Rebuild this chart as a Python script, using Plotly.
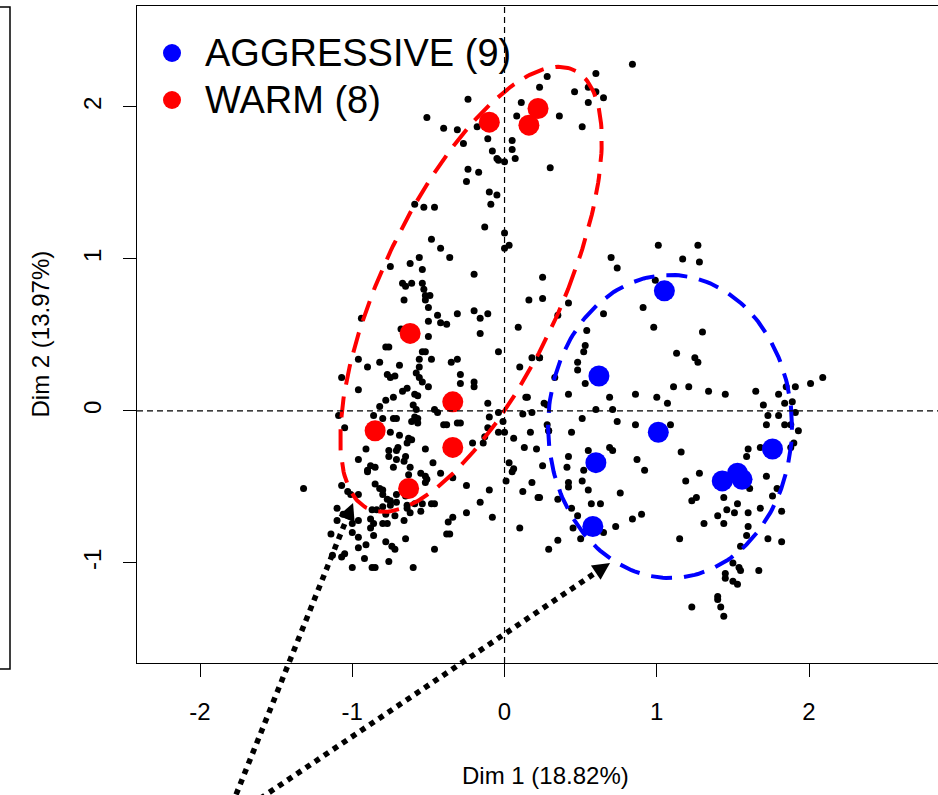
import numpy as np
import plotly.graph_objects as go

# ---------------- data ----------------
ind_x = [
    0.84, 0.60, 0.28, 0.23, 0.46, 0.55, 0.60, 0.65, 0.55, -0.24,
    -0.51, 0.11, 0.08, 0.36, 0.51, -0.40, -0.31, -0.18, -0.11, -0.27,
    0.05, 0.05, -0.08, -0.05, -0.04, 0.00, 0.07, 0.30, -0.24, -0.17,
    -0.25, -0.10, -0.05, -0.09, -0.59, -0.53, -0.46, -0.13, 0.00, -0.48,
    -0.42, 0.00, 0.03, -0.56, -0.36, 0.70, 1.01, 1.27, 1.17, 1.28,
    0.74, 0.25, 0.99, 0.25, 0.42, 0.35, 0.65, 0.91, 0.98, 0.54,
    1.30, 0.53, 0.52, 1.13, 1.25, 1.27, 0.23, 0.48, 0.48, 0.33,
    0.53, 1.11, 1.21, 1.34, 1.45, 1.65, 1.80, 1.85, 1.91, 2.01,
    2.09, 0.42, 0.86, 1.00, 0.69, 1.07, 1.70, 1.84, 1.89, 0.26,
    0.28, 0.60, 0.71, 1.73, 1.80, 1.91, 0.51, 0.74, 1.72, 1.84,
    1.88, 0.28, 0.29, 0.86, 1.09, 0.44, 1.93, 1.90, 1.88, 1.60,
    1.68, 0.69, 0.71, 0.55, 1.16, 1.59, 0.42, 0.41, 0.87, 0.92,
    0.52, 0.25, 1.28, 1.72, 0.51, 0.42, 0.42, 1.19, 1.61, 1.79,
    0.55, 0.76, 1.76, 1.26, 1.23, 0.35, 1.44, 1.53, 0.44, 0.57,
    0.63, 1.68, 1.82, 0.90, 0.84, 0.48, 1.40, 1.46, 1.51, 1.60,
    1.31, 1.44, 1.60, 0.73, 0.45, 0.23, 0.50, 0.65, 0.35, 0.29,
    1.59, 1.73, 1.82, 1.15, 1.55, 1.50, 1.54, 1.55, 1.67, 1.45,
    1.45, 1.50, 1.53, 1.40, 1.40, 1.42, 1.23, 1.44, -0.62, -0.75,
    -0.54, -0.20, -0.67, -0.65, -0.61, -0.54, -0.53, -0.52, -0.49, -0.66,
    -0.52, 0.16, -0.50, -0.31, -0.20, -0.16, -0.11, -0.94, -0.44, -0.50,
    -0.42, -0.38, -0.68, -0.50, -0.16, 0.09, -0.78, -0.76, -0.54, -0.52,
    -0.04, -0.56, -0.48, -0.31, -0.35, -0.96, -0.82, -0.69, -0.90, -0.56,
    0.10, 0.18, 0.23, -0.58, -0.77, -0.72, -0.29, -1.07, -0.75, -0.56,
    -0.54, -0.20, -0.29, -0.50, -0.20, -0.96, -0.64, -0.67, -0.59, -0.57,
    -0.73, 0.14, 0.15, -0.78, -0.60, -0.82, -0.11, -0.58, -0.46, -0.44,
    -0.04, 0.18, -1.09, -0.86, -0.59, -0.57, -0.10, -0.80, -0.73, -0.71,
    -0.01, -0.61, -0.57, -0.40, -0.38, -0.31, -0.29, -1.05, -0.11, -0.04,
    0.00, 0.17, 0.29, -0.75, -0.69, 0.06, -0.63, -0.61, -0.64, -0.14,
    -0.21, 0.13, 0.21, -0.91, -0.70, -0.71, -0.52, -0.76, -0.65, -0.96,
    -0.76, -0.71, -0.66, -0.47, 0.03, 0.06, -0.88, -0.85, -0.90, -0.73,
    -0.62, -0.55, -0.52, -0.51, -0.42, -0.34, -0.85, -0.82, -0.80, -1.07,
    -1.03, -1.01, -0.96, -1.32, -0.71, -0.65, -0.25, 0.01, -0.10, 0.18,
    0.12, 0.22, -0.16, -0.77, -0.75, -0.71, -0.80, -0.59, -0.54, -0.48,
    -0.46, -0.64, -1.10, -1.06, -0.84, -0.78, -0.72, -0.64, -0.62, -0.55,
    -0.25, -0.08, -0.34, -0.37, -0.66, -0.86, -0.80, -0.77, -0.96, -1.00,
    -1.10, 0.10, -0.90, -0.80, -0.75, -0.63, -0.52, 0.05, -0.87, -0.88,
    -0.88, -1.14, -1.00, -0.96, -0.86, -0.65, -0.38, -0.36, -0.91, -0.96,
    -0.78, -0.74, -0.72, -0.46, -1.05, -1.07, -1.13, -0.92, -0.76, -0.87,
    -0.85, -1.00, -0.60, -0.13, 0.12,
]
ind_y = [
    2.28, 2.22, 2.20, 2.13, 2.10, 2.13, 2.10, 2.06, 2.03, 2.05,
    1.93, 2.03, 1.94, 1.94, 1.87, 1.86, 1.85, 1.87, 1.79, 1.76,
    1.78, 1.72, 1.71, 1.66, 1.65, 1.64, 1.66, 1.60, 1.59, 1.57,
    1.51, 1.44, 1.42, 1.36, 1.36, 1.34, 1.34, 1.21, 1.17, 1.13,
    1.07, 1.07, 1.09, 1.01, 1.01, 1.01, 1.09, 1.09, 1.00, 0.98,
    0.94, 0.88, 0.86, 0.74, 0.71, 0.63, 0.64, 0.68, 0.55, 0.53,
    0.52, 0.43, 0.39, 0.38, 0.35, 0.32, 0.35, 0.32, 0.27, 0.22,
    0.18, 0.16, 0.16, 0.13, 0.11, 0.13, 0.11, 0.16, 0.16, 0.18,
    0.22, 0.11, 0.11, 0.09, 0.09, 0.05, 0.04, 0.05, 0.06, 0.05,
    0.04, 0.01, 0.01, -0.03, -0.03, -0.01, -0.05, -0.07, -0.09, -0.09,
    -0.09, -0.09, -0.13, -0.09, -0.09, -0.14, -0.13, -0.21, -0.24, -0.25,
    -0.24, -0.24, -0.26, -0.26, -0.27, -0.30, -0.30, -0.37, -0.32, -0.39,
    -0.39, -0.36, -0.41, -0.43, -0.46, -0.47, -0.50, -0.46, -0.51, -0.51,
    -0.52, -0.54, -0.56, -0.57, -0.59, -0.58, -0.57, -0.61, -0.64, -0.61,
    -0.61, -0.64, -0.66, -0.68, -0.71, -0.69, -0.69, -0.65, -0.67, -0.67,
    -0.74, -0.74, -0.76, -0.76, -0.77, -0.57, -0.84, -0.80, -0.85, -0.91,
    -0.82, -0.84, -0.86, -0.84, -0.89, -1.00, -1.03, -1.05, -1.05, -1.07,
    -1.10, -1.12, -1.14, -1.22, -1.24, -1.29, -1.29, -1.35, 0.97, 0.95,
    0.93, 0.90, 0.84, 0.82, 0.84, 0.84, 0.80, 0.76, 0.76, 0.73,
    0.73, 0.73, 0.68, 0.64, 0.66, 0.61, 0.64, 0.61, 0.63, 0.59,
    0.58, 0.57, 0.54, 0.49, 0.51, 0.55, 0.42, 0.42, 0.39, 0.39,
    0.39, 0.34, 0.34, 0.34, 0.32, 0.34, 0.32, 0.30, 0.29, 0.29,
    0.29, 0.35, 0.35, 0.25, 0.24, 0.23, 0.24, 0.22, 0.22, 0.22,
    0.19, 0.19, 0.18, 0.16, 0.16, 0.14, 0.15, 0.13, 0.11, 0.10,
    0.09, 0.09, 0.09, 0.07, 0.04, 0.03, 0.05, 0.01, 0.01, -0.01,
    -0.01, -0.01, -0.03, -0.03, -0.04, -0.05, -0.04, -0.05, -0.05, -0.05,
    -0.07, -0.07, -0.08, -0.09, -0.09, -0.08, -0.08, -0.11, -0.11, -0.14,
    -0.14, -0.14, -0.13, -0.14, -0.16, -0.18, -0.18, -0.19, -0.21, -0.21,
    -0.21, -0.24, -0.25, -0.25, -0.24, -0.26, -0.25, -0.26, -0.30, -0.32,
    -0.30, -0.32, -0.33, -0.34, -0.34, -0.38, -0.36, -0.37, -0.39, -0.37,
    -0.37, -0.41, -0.43, -0.45, -0.41, -0.44, -0.48, -0.51, -0.52, -0.49,
    -0.53, -0.55, -0.55, -0.51, -0.55, -0.56, -0.49, -0.46, -0.52, -0.47,
    -0.53, -0.57, -0.60, -0.58, -0.62, -0.60, -0.63, -0.61, -0.61, -0.61,
    -0.61, -0.62, -0.64, -0.68, -0.65, -0.68, -0.69, -0.64, -0.67, -0.66,
    -0.67, -0.70, -0.70, -0.73, -0.72, -0.74, -0.74, -0.74, -0.72, -0.74,
    -0.72, -0.77, -0.40, -0.55, -0.59, -0.42, -0.47, -0.40, -0.65, -0.71,
    -0.77, -0.81, -0.80, -0.83, -0.82, -0.84, -0.81, -0.81, -0.88, -0.90,
    -0.86, -0.89, -0.91, -0.91, -0.94, -0.96, -0.95, -0.97, -0.99, -1.03,
    -1.03, -1.03, -1.03, -0.17, -0.02,
]

aggr_x = [1.05, 0.62, 1.01, 0.60, 0.58, 1.76, 1.43, 1.53, 1.56]
aggr_y = [0.79, 0.23, -0.14, -0.34, -0.76, -0.25, -0.46, -0.41, -0.45]
warm_x = [-0.10, 0.22, 0.16, -0.62, -0.34, -0.85, -0.34, -0.63]
warm_y = [1.90, 1.99, 1.88, 0.51, 0.06, -0.13, -0.24, -0.51]

group_names = ["AGGRESSIVE (9)", "WARM (8)"]
group_colors = ["#0000FF", "#FF0000"]

# confidence ellipses: centre and two conjugate half-diameters (u, v)
aggr_ellipse = {"centre": (1.087, -0.102), "u": (0.801, 0.0), "v": (0.0, 0.997)}
warm_ellipse = {"centre": (-0.22, 0.80), "u": (0.637, 0.0), "v": (0.576, 1.464)}

# arrows (tail below the figure, tip at the ellipse) in data units
arrows = [((-1.79, -2.59), (-0.995, -0.605)),
          ((-1.665, -2.59), (0.693, -1.000))]

x_ticks = [-2, -1, 0, 1, 2]
y_ticks = [-1, 0, 1, 2]
x_title = "Dim 1 (18.82%)"
y_title = "Dim 2 (13.97%)"

assert len(ind_x) == len(ind_y)

# ---------------- layout geometry ----------------
W, H = 938, 795
ML, MR, MT, MB = 137, 0, 6, 132
PW, PH = W - ML - MR, H - MT - MB
X_RANGE = [-2.414, 2.847]
Y_RANGE = [-1.658, 2.664]
FONT = "Liberation Sans, Arial, Helvetica, sans-serif"
AX_FS = 24


def to_paper(x, y):
    return ((x - X_RANGE[0]) / (X_RANGE[1] - X_RANGE[0]),
            (y - Y_RANGE[0]) / (Y_RANGE[1] - Y_RANGE[0]))


def ellipse_path(e):
    t = np.linspace(0, 2 * np.pi, 240)
    cx, cy = e["centre"]
    ux, uy = e["u"]
    vx, vy = e["v"]
    return cx + ux * np.cos(t) + vx * np.sin(t), cy + uy * np.cos(t) + vy * np.sin(t)


fig = go.Figure()

fig.add_trace(go.Scatter(x=ind_x, y=ind_y, mode="markers",
                         marker=dict(size=7, color="black"),
                         showlegend=False, hoverinfo="skip"))

for e, col in [(warm_ellipse, group_colors[1]), (aggr_ellipse, group_colors[0])]:
    ex, ey = ellipse_path(e)
    fig.add_trace(go.Scatter(x=ex, y=ey, mode="lines",
                             line=dict(color=col, width=4, dash="21px,12px"),
                             showlegend=False, hoverinfo="skip"))

fig.add_trace(go.Scatter(x=aggr_x, y=aggr_y, mode="markers", name=group_names[0],
                         marker=dict(size=21, color=group_colors[0]), showlegend=False))
fig.add_trace(go.Scatter(x=warm_x, y=warm_y, mode="markers", name=group_names[1],
                         marker=dict(size=21, color=group_colors[1]), showlegend=False))

shapes = []
# dashed reference lines through the origin
shapes.append(dict(type="line", xref="x", yref="paper", x0=0, x1=0, y0=0, y1=1,
                   line=dict(color="black", width=1.2, dash="6px,4px")))
shapes.append(dict(type="line", xref="paper", yref="y", x0=0, x1=1, y0=0, y1=0,
                   line=dict(color="black", width=1.2, dash="6px,4px")))

# partial frame of the neighbouring panel at the far left
fx = (10 - ML) / PW
fl = (0 - ML) / PW
ft = (MT + PH - 7) / PH
fb = (MT + PH - 669) / PH
shapes.append(dict(type="path", xref="paper", yref="paper",
                   path=f"M {fl},{ft} L {fx},{ft} L {fx},{fb} L {fl},{fb}",
                   line=dict(color="black", width=1.5)))

# dotted arrows
px_per_x = PW / (X_RANGE[1] - X_RANGE[0])
px_per_y = PH / (Y_RANGE[1] - Y_RANGE[0])
annotations = []
for (tx, ty), (hx, hy) in arrows:
    dxp = (hx - tx) * px_per_x
    dyp = (hy - ty) * px_per_y
    L = np.hypot(dxp, dyp)
    back = 14.0
    ex = hx - (dxp / L) * back / px_per_x
    ey = hy - (dyp / L) * back / px_per_y
    p0 = to_paper(tx, ty)
    p1 = to_paper(ex, ey)
    shapes.append(dict(type="line", xref="paper", yref="paper",
                       x0=p0[0], y0=p0[1], x1=p1[0], y1=p1[1],
                       line=dict(color="black", width=5.5, dash="dot")))
    annotations.append(dict(x=hx, y=hy, xref="x", yref="y", text="",
                            showarrow=True, arrowhead=2, arrowsize=1.15,
                            arrowwidth=3, arrowcolor="black",
                            ax=-(dxp / L) * 18, ay=(dyp / L) * 18))

# legend (drawn manually)
leg_y_px = [53, 100]
for name, col, ypx in zip(group_names, group_colors, leg_y_px):
    yp = (MT + PH - ypx) / PH
    shapes.append(dict(type="circle", xref="paper", yref="paper",
                       xsizemode="pixel", ysizemode="pixel",
                       xanchor=(172 - ML) / PW, yanchor=yp,
                       x0=-9, x1=9, y0=-9, y1=9,
                       fillcolor=col, line=dict(width=0)))
    annotations.append(dict(x=(203 - ML) / PW, y=yp, xref="paper", yref="paper",
                            text=name, showarrow=False, xanchor="left", yanchor="middle",
                            font=dict(family=FONT, size=38, color="black")))

# axis titles
annotations.append(dict(x=(545 - ML) / PW, y=(MT + PH - 775) / PH, xref="paper", yref="paper",
                        text=x_title, showarrow=False, xanchor="center", yanchor="middle",
                        font=dict(family=FONT, size=AX_FS, color="black")))
annotations.append(dict(x=(40 - ML) / PW, y=0.5, xref="paper", yref="paper",
                        text=y_title, showarrow=False, textangle=-90,
                        xanchor="center", yanchor="middle",
                        font=dict(family=FONT, size=AX_FS, color="black")))

fig.update_layout(
    width=W, height=H,
    margin=dict(l=ML, r=MR, t=MT, b=MB, pad=0),
    paper_bgcolor="white", plot_bgcolor="white",
    font=dict(family=FONT, size=AX_FS, color="black"),
    shapes=shapes, annotations=annotations,
    showlegend=False,
)
fig.update_xaxes(range=X_RANGE, tickvals=x_ticks, ticktext=[str(v) for v in x_ticks],
                 showgrid=False, zeroline=False, showline=True, linecolor="black",
                 linewidth=1.4, mirror=True, ticks="outside", ticklen=13, tickwidth=1.4,
                 tickcolor="black", ticklabelstandoff=14,
                 tickfont=dict(family=FONT, size=AX_FS, color="black"))
fig.update_yaxes(range=Y_RANGE, tickvals=y_ticks, ticktext=[str(v) for v in y_ticks],
                 showgrid=False, zeroline=False, showline=True, linecolor="black",
                 linewidth=1.4, mirror=False, ticks="outside", ticklen=13, tickwidth=1.4,
                 tickcolor="black", tickangle=-90, ticklabelstandoff=12,
                 tickfont=dict(family=FONT, size=AX_FS, color="black"))

fig.write_html("out.html")
